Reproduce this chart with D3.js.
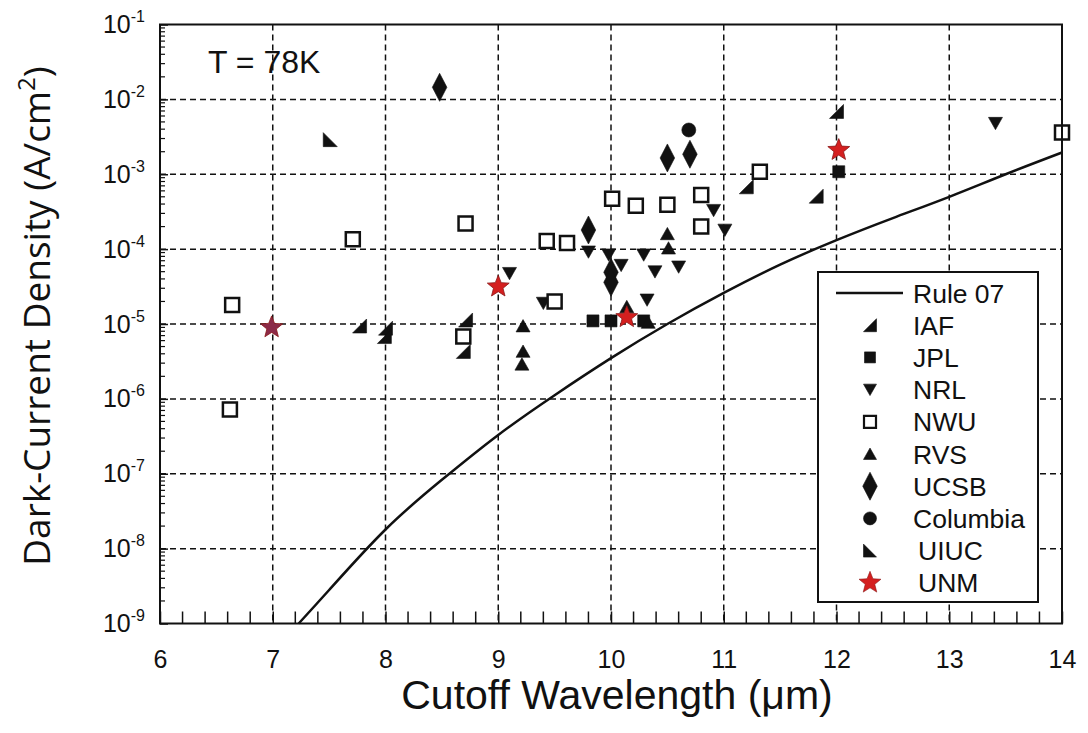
<!DOCTYPE html>
<html>
<head>
<meta charset="utf-8">
<script src="https://cdn.jsdelivr.net/npm/d3@7"></script>
<style>
  body { margin: 0; background: #fff; }
  text { font-family: "Liberation Sans", Arial, sans-serif; fill: #111; }
</style>
</head>
<body>
<svg id="chart" width="1088" height="733"></svg>
<script>
// ---- data: cutoff wavelength (um) vs dark-current density (A/cm^2) at 78 K ----
const xTicks = [6, 7, 8, 9, 10, 11, 12, 13, 14];
const yTickExps = [-1, -2, -3, -4, -5, -6, -7, -8, -9];

const rule07 = [
  [7.23, 1.0e-9], [7.5, 2.8e-9], [8.0, 1.8e-8], [8.5, 8.3e-8], [9.0, 3.3e-7],
  [9.5, 1.12e-6], [10.0, 3.5e-6], [10.5, 1.0e-5], [11.0, 2.6e-5], [11.5, 6.2e-5],
  [12.0, 1.32e-4], [12.5, 2.6e-4], [13.0, 5.0e-4], [13.5, 1.0e-3], [14.0, 1.95e-3]
];

const iaf = [
  [7.77, 9.4e-6], [8.0, 8.8e-6], [7.99, 6.8e-6], [8.71, 1.13e-5], [8.69, 4.3e-6],
  [11.2, 6.8e-4], [11.82, 5.1e-4], [12.0, 6.9e-3]
];
const jpl = [
  [9.84, 1.1e-5], [10.0, 1.1e-5], [10.29, 1.1e-5], [12.02, 1.08e-3]
];
const nrl = [
  [9.1, 4.75e-5], [9.4, 1.9e-5], [9.8, 9.2e-5], [9.98, 8.4e-5], [10.09, 6.1e-5],
  [10.29, 8.4e-5], [10.39, 5.0e-5], [10.6, 5.8e-5], [10.32, 2.1e-5],
  [10.91, 3.3e-4], [11.01, 1.8e-4], [13.41, 4.8e-3]
];
const nwu = [
  [6.62, 7.2e-7], [6.64, 1.8e-5], [7.71, 1.36e-4], [8.71, 2.2e-4], [8.69, 6.8e-6],
  [9.43, 1.28e-4], [9.61, 1.21e-4], [9.5, 2.0e-5], [10.01, 4.7e-4], [10.22, 3.8e-4],
  [10.5, 3.9e-4], [10.8, 5.3e-4], [10.8, 2.0e-4], [11.32, 1.08e-3], [14.0, 3.6e-3]
];
const rvs = [
  [9.22, 9.4e-6], [9.22, 4.3e-6], [9.21, 2.9e-6], [10.14, 1.7e-5], [10.33, 1.05e-5],
  [10.51, 1.03e-4], [10.5, 1.6e-4]
];
const ucsb = [
  [8.48, 1.45e-2], [9.8, 1.8e-4], [10.0, 4.9e-5], [10.0, 3.6e-5],
  [10.5, 1.65e-3], [10.7, 1.85e-3]
];
const columbia = [[10.69, 3.9e-3]];
const uiuc = [[7.51, 2.9e-3]];
const unm = [[6.99, 9.0e-6], [9.0, 3.15e-5], [10.14, 1.23e-5], [12.02, 2.1e-3]];

const legendNames = ["IAF", "JPL", "NRL", "NWU", "RVS", "UCSB", "Columbia", "UIUC", "UNM"];

// ---- layout ----
const svg = d3.select("#chart");
const plotL = 160, plotR = 1062, plotT = 24.5, plotB = 623.5;

const x = d3.scaleLinear().domain([6, 14]).range([plotL, plotR]);
const y = d3.scaleLog().domain([1e-9, 1e-1]).range([plotB, plotT]);

// ---- marker shapes (path strings centred on 0,0) ----
function starPath(ro, ri) {
  const pts = [];
  for (let i = 0; i < 10; i++) {
    const r = i % 2 ? ri : ro;
    const a = -Math.PI / 2 + i * Math.PI / 5;
    pts.push([r * Math.cos(a), r * Math.sin(a)]);
  }
  return "M" + pts.map(p => p[0].toFixed(2) + "," + p[1].toFixed(2)).join("L") + "Z";
}
const shapes = {
  IAF: s => `M${s/2},${-s/2}L${s/2},${s/2}L${-s/2},${s/2}Z`,
  JPL: s => `M${-s/2},${-s/2}h${s}v${s}h${-s}Z`,
  NRL: s => `M${-s/2},${-s*0.42}L${s/2},${-s*0.42}L0,${s*0.46}Z`,
  NWU: s => `M${-s/2},${-s/2}h${s}v${s}h${-s}Z`,
  RVS: s => `M${-s/2},${s*0.42}L${s/2},${s*0.42}L0,${-s*0.46}Z`,
  UCSB: s => `M0,${-s}L${s*0.52},0L0,${s}L${-s*0.52},0Z`,
  Columbia: s => `M${s/2},0A${s/2},${s/2} 0 1 1 ${-s/2},0A${s/2},${s/2} 0 1 1 ${s/2},0Z`,
  UIUC: s => `M${-s/2},${-s/2}L${-s/2},${s/2}L${s/2},${s/2}Z`,
  UNM: s => starPath(s / 2, s / 4.6)
};
const plotSize = { IAF: 14, JPL: 12, NRL: 14, NWU: 14, RVS: 14, UCSB: 14, Columbia: 14, UIUC: 14, UNM: 23 };
const legendSize = { IAF: 13, JPL: 11, NRL: 13, NWU: 12, RVS: 13, UCSB: 14, Columbia: 13, UIUC: 13, UNM: 23 };
const fillOf = { NWU: "#fff", UNM: "#d41f1f" };
const strokeOf = { NWU: "#111", UNM: "#8a1616" };

// ---- grid ----
const grid = svg.append("g").attr("stroke", "#111").attr("stroke-width", 1.5)
  .attr("stroke-dasharray", "6,4").attr("fill", "none");
grid.selectAll("line.v").data(xTicks.slice(1, -1)).join("line").attr("class", "v")
  .attr("x1", d => x(d)).attr("x2", d => x(d)).attr("y1", plotT).attr("y2", plotB);
grid.selectAll("line.h").data(yTickExps.slice(1, -1)).join("line").attr("class", "h")
  .attr("x1", plotL).attr("x2", plotR)
  .attr("y1", d => y(Math.pow(10, d))).attr("y2", d => y(Math.pow(10, d)));

// ---- Rule 07 curve ----
const line = d3.line().x(d => x(d[0])).y(d => y(d[1])).curve(d3.curveNatural);
svg.append("path").datum(rule07).attr("d", line)
  .attr("fill", "none").attr("stroke", "#111").attr("stroke-width", 2.5);

// ---- markers ----
const series = [
  ["IAF", iaf], ["JPL", jpl], ["NRL", nrl], ["NWU", nwu], ["RVS", rvs],
  ["UCSB", ucsb], ["Columbia", columbia], ["UIUC", uiuc], ["UNM", unm]
];
const marks = svg.append("g");
series.forEach(([name, pts]) => {
  marks.append("g").selectAll("path").data(pts).join("path")
    .attr("transform", d => `translate(${x(d[0])},${y(d[1])})`)
    .attr("d", shapes[name](plotSize[name]))
    .attr("fill", (d, i) => name === "UNM" && i === 0 ? "#8c2a48" : (fillOf[name] || "#111"))
    .attr("stroke", strokeOf[name] || "#111")
    .attr("stroke-width", name === "NWU" ? 2.5 : (name === "UNM" ? 0.8 : 0.6));
});

// ---- axes ----
const xAxis = d3.axisBottom(x).tickValues(xTicks).tickSizeInner(-12).tickSizeOuter(0)
  .tickPadding(27).tickFormat(d3.format("d"));
const xMinor = d3.range(6, 14.001, 0.2).filter(v => Math.abs(v - Math.round(v)) > 1e-6);
const gx = svg.append("g").attr("transform", `translate(0,${plotB})`).call(xAxis);
gx.selectAll("text").attr("font-size", 25).attr("font-family", "Liberation Sans, Arial, sans-serif").attr("fill", "#111");
gx.append("g").selectAll("line").data(xMinor).join("line")
  .attr("x1", d => x(d)).attr("x2", d => x(d)).attr("y1", 0).attr("y2", -12)
  .attr("stroke", "#111").attr("stroke-width", 1.5);

const yAxis = d3.axisLeft(y).tickValues(yTickExps.map(e => Math.pow(10, e)))
  .tickSizeInner(-8).tickSizeOuter(0).tickPadding(15).tickFormat(() => "");
const gy = svg.append("g").attr("transform", `translate(${plotL},0)`).call(yAxis);
gy.selectAll(".tick text").each(function (d) {
  const t = d3.select(this).attr("font-size", 25).attr("fill", "#111")
    .attr("font-family", "Liberation Sans, Arial, sans-serif");
  t.append("tspan").text("10");
  t.append("tspan").attr("font-size", 16).attr("dy", -11).text(String(Math.round(Math.log10(d))));
});
const yMinor = [];
yTickExps.slice(1).forEach(e => { for (let k = 2; k <= 9; k++) yMinor.push(k * Math.pow(10, e)); });
gy.append("g").selectAll("line").data(yMinor).join("line")
  .attr("x1", 0).attr("x2", 5).attr("y1", d => y(d)).attr("y2", d => y(d))
  .attr("stroke", "#111").attr("stroke-width", 1.2);
svg.selectAll(".domain").remove();
svg.selectAll(".tick line").attr("stroke", "#111").attr("stroke-width", 1.5);

// ---- legend ----
const lg = svg.append("g");
lg.append("rect").attr("x", 818).attr("y", 272).attr("width", 220).attr("height", 330)
  .attr("fill", "#fff").attr("stroke", "#111").attr("stroke-width", 2);
const rowY = i => 293 + i * 32.2;
lg.append("line").attr("x1", 836).attr("x2", 903).attr("y1", rowY(0)).attr("y2", rowY(0))
  .attr("stroke", "#111").attr("stroke-width", 2.5);
lg.append("text").attr("x", 913).attr("y", rowY(0)).attr("dy", "0.36em")
  .attr("font-size", 26.5).text("Rule 07");
legendNames.forEach((name, i) => {
  const yy = rowY(i + 1);
  lg.append("path").attr("transform", `translate(870,${yy})`)
    .attr("d", shapes[name](legendSize[name]))
    .attr("fill", fillOf[name] || "#111").attr("stroke", strokeOf[name] || "#111")
    .attr("stroke-width", name === "NWU" ? 2.2 : 0.6);
  lg.append("text").attr("x", name === "UIUC" || name === "UNM" ? 918 : 913).attr("y", yy).attr("dy", "0.36em")
    .attr("font-size", 26.5).text(name);
});

// ---- frame ----
svg.append("rect").attr("x", plotL).attr("y", plotT).attr("width", plotR - plotL).attr("height", plotB - plotT)
  .attr("fill", "none").attr("stroke", "#111").attr("stroke-width", 2);

// ---- annotation and titles ----
svg.append("text").attr("x", 208).attr("y", 73).attr("font-size", 32).text("T = 78K");

svg.append("text").attr("x", (plotL + plotR) / 2 + 6).attr("y", 709).attr("text-anchor", "middle")
  .attr("font-size", 41).text("Cutoff Wavelength (\u03bcm)");

const yt = svg.append("text").attr("transform", "translate(50,316) rotate(-90)")
  .attr("text-anchor", "middle").attr("font-size", 37)
  .style("font-family", "'Open Sans', 'Noto Sans', sans-serif");
yt.append("tspan").text("Dark-Current Density (A/cm");
yt.append("tspan").attr("font-size", 24).attr("dy", -15).text("2");
yt.append("tspan").attr("dy", 15).text(")");
</script>
</body>
</html>
